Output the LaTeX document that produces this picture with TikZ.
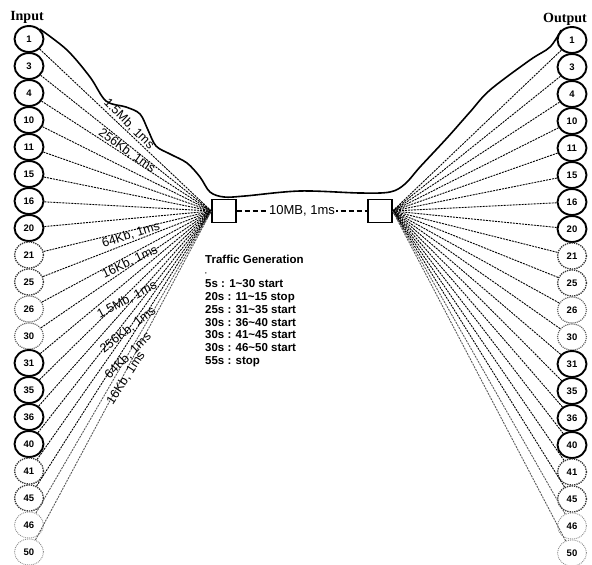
\documentclass[tikz,border=0pt]{standalone}
\usepackage{fontspec}
\setmainfont{Liberation Serif}
\setsansfont{Liberation Sans}
\usetikzlibrary{shapes.geometric}

\begin{document}
\begin{tikzpicture}[
    x=1pt, y=-1pt,
    host/.style={ellipse, fill=white, minimum width=29pt, minimum height=26pt, inner sep=0pt,
        font=\sffamily\bfseries\fontsize{9.5}{10}\selectfont},
    hostbold/.style={draw, line width=1.9pt},
    hostmid/.style={draw=black!80, line width=1.3pt, densely dotted},
    hostlight/.style={draw=black!65, line width=1.1pt, densely dotted},
    hostfaint/.style={draw=black!45, line width=0.9pt, densely dotted},
    router/.style={draw, line width=1.3pt, fill=white, minimum width=24pt, minimum height=23pt, inner sep=0pt},
    link/.style={dash pattern=on 2pt off 1pt, line width=0.9pt},
    linkfaint/.style={link, draw=black!65},
    backbone/.style={dash pattern=on 5pt off 3pt, line width=2.2pt},
    flow/.style={line width=1.6pt, line join=round},
    lbl/.style={font=\sffamily\fontsize{12.5}{13}\selectfont, inner sep=0pt},
    side/.style={font=\bfseries\fontsize{14}{15}\selectfont, inner sep=0pt}
]
    \useasboundingbox (0,0) rectangle (592,565);

    % hosts
    \foreach \n/\kind [count=\i from 0] in {1/bold,3/bold,4/bold,10/bold,11/bold,15/bold,16/bold,20/bold,
            21/mid,25/mid,26/light,30/light,31/bold,35/bold,36/bold,40/bold,41/mid,45/mid,46/faint,50/faint} {
        \node[host, host\kind] (in-\n) at (29,{39+27*\i}) {\n};
        \node[host, host\kind] (out-\n) at (572,{40+27*\i}) {\n};
    }
    \node[side] (input) at (27,17) {Input};
    \node[side, anchor=west] (output) at (543,19) {Output};

    % routers
    \node[router] (rl) at (224,211) {};
    \node[router] (rr) at (380,211) {};

    % access links
    \foreach \n in {1,3,4,10,11,15,16,20,21,25,26,30,31,35,36,40,41,45} {
        \draw[link] (in-\n) -- (rl.west);
        \draw[link] (out-\n) -- (rr.east);
    }
    \foreach \n in {46,50} {
        \draw[linkfaint] (in-\n) -- (rl.west);
        \draw[linkfaint] (out-\n) -- (rr.east);
    }

    % bottleneck
    \draw[backbone] (rl.east) -- node[fill=white, inner sep=1pt, font=\sffamily\fontsize{13}{13}\selectfont] (bneck) {10MB, 1ms} (rr.west);

    % flow path
    \draw[flow] plot[smooth, tension=0.55] coordinates {(in-1.north east) (67,50) (90,77) (106,101) (126,107)
        (140,114) (148,130) (156,146) (170,154) (187,163) (200,177) (210,192) (224,197) (245,196)
        (300,191) (360,193) (390,192) (405,184) (420,167) (447,138) (470,112) (490,90) (530,60) (550,47) (out-1.north west)};

    % link labels
    \node[lbl, rotate=-45] (l1) at (129,124) {1.5Mb, 1ms};
    \node[lbl, rotate=-36] (l2) at (127,151) {256Kb, 1ms};
    \node[lbl, rotate=18] (l3) at (131,235) {64Kb, 1ms};
    \node[lbl, rotate=25] (l4) at (130,262) {16Kb, 1ms};
    \node[lbl, rotate=28] (l5) at (127,300) {1.5Mb, 1ms};
    \node[lbl, rotate=38] (l6) at (128,330) {256Kb, 1ms};
    \node[lbl, rotate=45] (l7) at (128,356) {64Kb, 1ms};
    \node[lbl, rotate=57] (l8) at (126,378) {16Kb, 1ms};

    % traffic schedule
    \node[anchor=north west, align=left, inner sep=0pt, font=\sffamily\bfseries\fontsize{11.5}{12.7}\selectfont] (traffic) at (205,255)
        {Traffic Generation\\[-3pt] {\fontsize{6}{6}\selectfont ,}\\[2pt]
         5s : 1\textasciitilde30 start\\
         20s : 11\textasciitilde15 stop\\
         25s : 31\textasciitilde35 start\\
         30s : 36\textasciitilde40 start\\
         30s : 41\textasciitilde45 start\\
         30s : 46\textasciitilde50 start\\
         55s : stop};
\end{tikzpicture}
\end{document}
